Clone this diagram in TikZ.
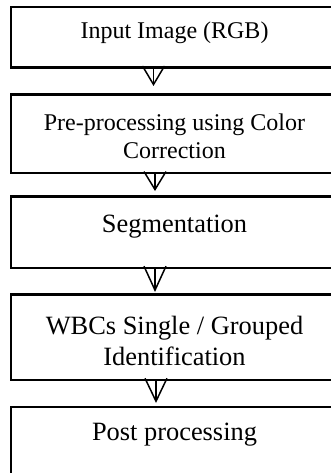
\documentclass[tikz,border=0pt]{standalone}
\usepackage{fontspec}
\setmainfont{Liberation Serif}
\usetikzlibrary{arrows.meta}

\tikzset{
  stepbox/.style={draw=black, line width=2.3pt, rectangle, anchor=north west,
    minimum width=330pt, inner sep=0pt, outer sep=0pt},
  smalltext/.style={anchor=base, inner sep=0pt, align=center,
    font=\fontsize{24}{28}\selectfont},
  bigtext/.style={anchor=base, inner sep=0pt, align=center,
    font=\fontsize{26.4}{31}\selectfont},
  flow/.style={draw=black, line width=1.5pt,
    -{Straight Barb[length=#1, width=22pt, line width=1.5pt]}},
}

\begin{document}
\begin{tikzpicture}[x=1pt, y=1pt]
  \useasboundingbox (0,0) rectangle (330,-473);

  % process boxes
  \node[stepbox, minimum height=60.5pt] (b1) at (11.2,-7) {};
  \node[stepbox, minimum height=78.5pt] (b2) at (11.2,-94.5) {};
  \node[stepbox, minimum height=71.5pt] (b3) at (11.2,-196.5) {};
  \node[stepbox, minimum height=85.5pt] (b4) at (11.2,-294.5) {};
  \node[stepbox, minimum height=100pt] (b5) at (11.2,-407) {};

  % box captions (a multi-line caption sits on the baseline of its last line)
  \node[smalltext] (t1) at (174.5,-39) {Input Image (RGB)};
  \node[smalltext] (t2) at (174.5,-158) {Pre-processing using Color\\Correction};
  \node[bigtext] (t3) at (174.5,-232) {Segmentation};
  \node[bigtext] (t4) at (174.5,-365) {WBCs Single / Grouped\\Identification};
  \node[bigtext] (t5) at (174.5,-440) {Post processing};

  % connectors between the steps
  \draw[flow=18.5pt, shorten >=8.5pt] (153.5,0 |- b1.south) -- (153.5,0 |- b2.north);
  \draw[flow=18pt, shorten >=5.5pt] (155,0 |- b2.south) -- (155,0 |- b3.north);
  \draw[flow=24pt, shorten >=2.5pt] (155,0 |- b3.south) -- (155,0 |- b4.north);
  \draw[flow=23pt, shorten >=4pt] (156,0 |- b4.south) -- (156,0 |- b5.north);
\end{tikzpicture}
\end{document}
